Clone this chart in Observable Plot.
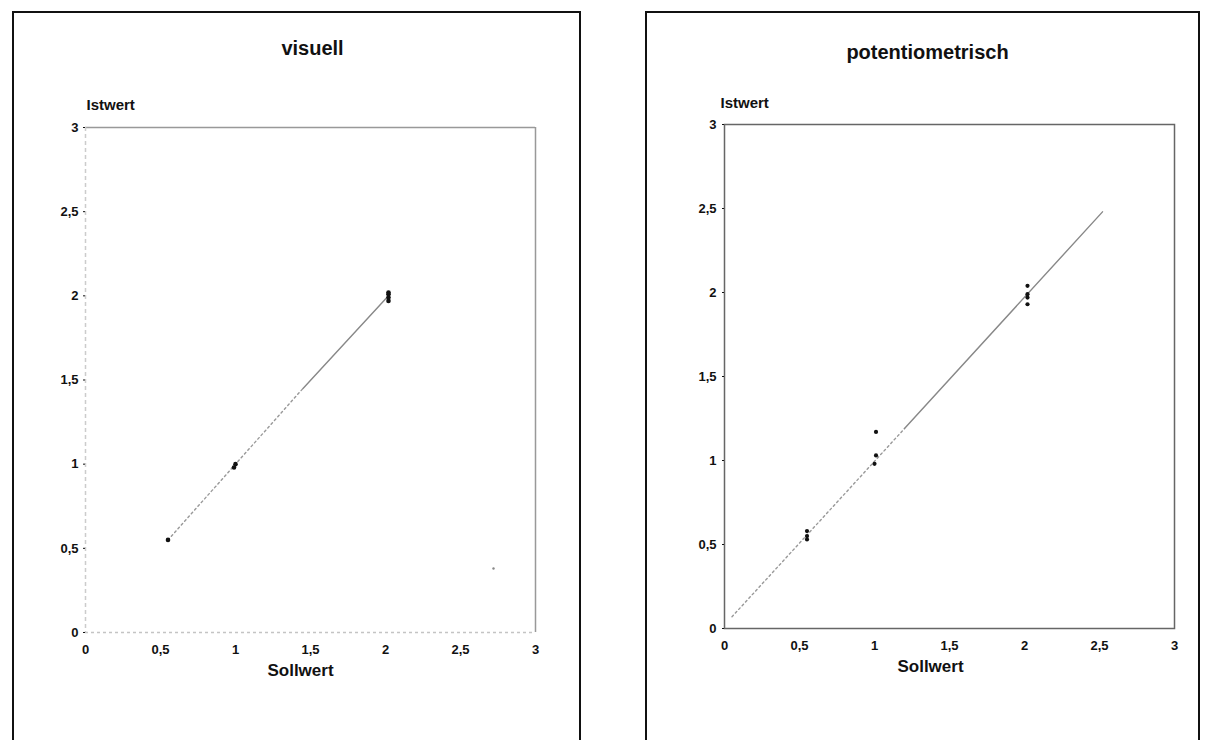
<!DOCTYPE html>
<html>
<head>
<meta charset="utf-8">
<script src="https://cdn.jsdelivr.net/npm/d3@7"></script>
<script src="https://cdn.jsdelivr.net/npm/@observablehq/plot@0.6"></script>
<style>
  html, body { margin: 0; padding: 0; background: #fff; }
  #page { position: relative; width: 1208px; height: 740px; overflow: hidden; font-family: "Liberation Sans", Arial, sans-serif; }
  .box { position: absolute; border: 2px solid #111; border-bottom: none; top: 11px; height: 740px; }
  .plot { position: absolute; top: 0; }
</style>
</head>
<body>
<div id="page">
  <div class="box" style="left:12px;width:565px;"></div>
  <div class="box" style="left:645px;width:551px;"></div>
  <div id="left" class="plot" style="left:0px;"></div>
  <div id="right" class="plot" style="left:604px;"></div>
</div>
<script>
// ---- data ----
const titles = ["visuell", "potentiometrisch"];
const xLabel = "Sollwert";
const yLabel = "Istwert";
const tickValues = [0, 0.5, 1, 1.5, 2, 2.5, 3];

const leftSoll = [0.55, 0.99, 1.0, 2.02, 2.02, 2.02, 2.02];
const leftIst  = [0.55, 0.98, 1.0, 1.97, 1.99, 2.01, 2.02];
const leftStraySoll = [2.72];
const leftStrayIst  = [0.38];
const leftLineDottedX = [0.55, 1.45];
const leftLineDottedY = [0.55, 1.45];
const leftLineSolidX  = [1.45, 2.02];
const leftLineSolidY  = [1.45, 2.0];

const rightSoll = [0.55, 0.55, 0.55, 1.01, 1.01, 1.0, 2.02, 2.02, 2.02, 2.02];
const rightIst  = [0.58, 0.55, 0.53, 1.17, 1.03, 0.98, 2.04, 1.99, 1.97, 1.93];
const rightLineDottedX = [0.05, 1.2];
const rightLineDottedY = [0.07, 1.19];
const rightLineSolidX  = [1.2, 2.52];
const rightLineSolidY  = [1.19, 2.48];

// ---- helpers ----
const fmt = d => String(d).replace(".", ",");
const zip = (xs, ys) => xs.map((x, i) => ({x, y: ys[i]}));
const FONT = "Liberation Sans, Arial, sans-serif";
const STYLE = {fontFamily: FONT, fontSize: "13px", fontWeight: "bold", color: "#111"};

function axes(padY) {
  return [
    Plot.axisX({ticks: tickValues, tickFormat: fmt, tickSize: 0, tickPadding: 12, fontSize: 13, fontWeight: "bold", label: null}),
    Plot.axisY({ticks: tickValues, tickFormat: fmt, tickSize: 2, tickPadding: padY, fontSize: 13, fontWeight: "bold", label: null})
  ];
}

function labels(title, titleDx, titleDy, sollDx, istDx, istDy) {
  return [
    Plot.text([title], {frameAnchor: "top", lineAnchor: "middle", dx: titleDx, dy: titleDy, fontSize: 20, fontWeight: "bold", fill: "#111"}),
    Plot.text([xLabel], {frameAnchor: "bottom", lineAnchor: "middle", dx: sollDx, dy: 38, fontSize: 17, fontWeight: "bold", fill: "#111"}),
    Plot.text([yLabel], {frameAnchor: "top-left", lineAnchor: "middle", textAnchor: "start", dx: istDx, dy: istDy, fontSize: 15, fontWeight: "bold", fill: "#111"})
  ];
}

// ---- left: visuell ----
const left = Plot.plot({
  width: 600, height: 740,
  marginLeft: 85, marginRight: 65, marginTop: 127, marginBottom: 108,
  style: STYLE,
  x: {domain: [0, 3]},
  y: {domain: [0, 3]},
  marks: [
    Plot.ruleY([3], {stroke: "#999", strokeWidth: 1.5}),
    Plot.ruleX([3], {stroke: "#999", strokeWidth: 1.5}),
    Plot.ruleX([0], {stroke: "#ccc", strokeWidth: 1.5, strokeDasharray: "4,3"}),
    Plot.ruleY([0], {stroke: "#c4c4c4", strokeWidth: 1.5, strokeDasharray: "3,3"}),
    ...axes(5),
    Plot.line(zip(leftLineDottedX, leftLineDottedY), {x: "x", y: "y", stroke: "#999", strokeWidth: 1.4, strokeDasharray: "2,3"}),
    Plot.line(zip(leftLineSolidX, leftLineSolidY), {x: "x", y: "y", stroke: "#888", strokeWidth: 1.4}),
    Plot.dot(zip(leftSoll, leftIst), {x: "x", y: "y", r: 2.3, fill: "#111", stroke: "none"}),
    Plot.dot(zip(leftStraySoll, leftStrayIst), {x: "x", y: "y", r: 1.2, fill: "#888", stroke: "none"}),
    ...labels(titles[0], 2, -79, -10, 1, -22)
  ]
});
document.getElementById("left").appendChild(left);

// ---- right: potentiometrisch ----
const right = Plot.plot({
  width: 604, height: 740,
  marginLeft: 120, marginRight: 34, marginTop: 124, marginBottom: 112,
  style: STYLE,
  x: {domain: [0, 3]},
  y: {domain: [0, 3]},
  marks: [
    Plot.frame({stroke: "#666", strokeWidth: 1.5}),
    ...axes(6),
    Plot.line(zip(rightLineDottedX, rightLineDottedY), {x: "x", y: "y", stroke: "#999", strokeWidth: 1.4, strokeDasharray: "2,3"}),
    Plot.line(zip(rightLineSolidX, rightLineSolidY), {x: "x", y: "y", stroke: "#888", strokeWidth: 1.4}),
    Plot.dot(zip(rightSoll, rightIst), {x: "x", y: "y", r: 2.1, fill: "#111", stroke: "none"}),
    ...labels(titles[1], -22, -72, -19, -4, -21)
  ]
});
document.getElementById("right").appendChild(right);
</script>
</body>
</html>
